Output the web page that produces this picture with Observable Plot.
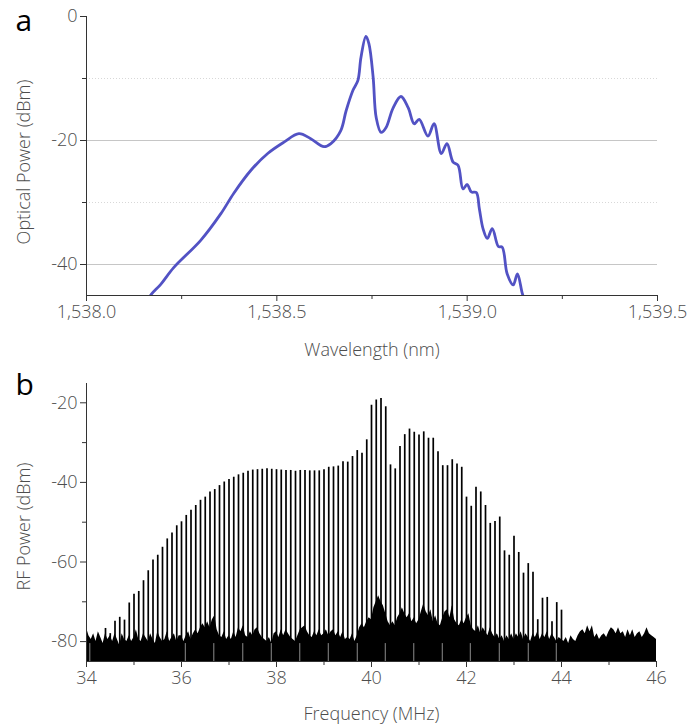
<!DOCTYPE html>
<html>
<head>
<meta charset="utf-8">
<script src="https://cdn.jsdelivr.net/npm/d3@7"></script>
<script src="https://cdn.jsdelivr.net/npm/@observablehq/plot@0.6"></script>
<style>
  html, body { margin: 0; padding: 0; background: #fff; }
  #wrap { width: 688px; }
  #wrap svg { display: block; }
</style>
</head>
<body>
<div id="wrap"></div>
<script>
// ---------- Panel a: optical spectrum ----------
const wavelengthNm = [1538.160, 1538.168, 1538.195, 1538.229, 1538.300, 1538.353, 1538.387, 1538.432, 1538.476, 1538.518,
  1538.558, 1538.589, 1538.624, 1538.642, 1538.668, 1538.682, 1538.700, 1538.713, 1538.721,
  1538.734, 1538.742, 1538.753, 1538.761, 1538.774, 1538.787, 1538.805, 1538.826, 1538.845, 1538.861,
  1538.874, 1538.897, 1538.913, 1538.932, 1538.947, 1538.963, 1538.976, 1538.989, 1539.000, 1539.011,
  1539.024, 1539.032, 1539.042, 1539.053, 1539.066, 1539.082, 1539.092, 1539.105, 1539.121, 1539.132,
  1539.145, 1539.155];
const opticalPowerDbm = [-46.2, -45, -43.2, -40.5, -36.1, -31.8, -28.5, -24.8, -22.1, -20.3,
  -18.9, -19.7, -21.0, -20.5, -18.4, -15.2, -11.9, -10.3, -6.6,
  -3.2, -4.4, -9.8, -16.3, -18.7, -17.9, -14.8, -12.9, -14.7, -17.3,
  -16.6, -19.3, -17.3, -22.1, -20.5, -23.5, -24.0, -27.8, -27.1, -28.3,
  -28.4, -31.0, -34.3, -35.8, -34.2, -37.1, -37.2, -41.5, -43.3, -41.5,
  -44.7, -46.5];
const waveTicksMajor = [1538.0, 1538.5, 1539.0, 1539.5];
const waveTicksMinor = [1538.25, 1538.75, 1539.25];
const optTicksMajor = [0, -20, -40];
const optTicksMinor = [-10, -30];
const optGridSolid = [-20, -40];
const optGridDotted = [-10, -30];

// ---------- Panel b: RF spectrum ----------
const combFreqMHz = [34.4, 34.5, 34.6, 34.7, 34.8, 34.9, 35.0, 35.1, 35.2, 35.3, 35.4, 35.5, 35.6, 35.7, 35.8, 35.9,
  36.0, 36.1, 36.2, 36.3, 36.4, 36.5, 36.6, 36.7, 36.8, 36.9, 37.0, 37.1, 37.2, 37.3, 37.4, 37.5, 37.6, 37.7, 37.8, 37.9,
  38.0, 38.1, 38.2, 38.3, 38.4, 38.5, 38.6, 38.7, 38.8, 38.9, 39.0, 39.1, 39.2, 39.3, 39.4, 39.5, 39.6, 39.7, 39.8, 39.9,
  40.0, 40.1, 40.2, 40.3, 40.4, 40.5, 40.6, 40.7, 40.8, 40.9, 41.0, 41.1, 41.2, 41.3, 41.4, 41.5, 41.6, 41.7, 41.8, 41.9,
  42.0, 42.1, 42.2, 42.3, 42.4, 42.5, 42.6, 42.7, 42.8, 42.9, 43.0, 43.1, 43.2, 43.3, 43.4, 43.5, 43.6, 43.7, 43.8, 43.9, 44.0];
const combPowerDbm = [-76.7, -78.0, -74.9, -73.9, -74.6, -70.3, -68.1, -67.4, -64.7, -62.2, -59.5, -58.3, -56.3, -54.2, -52.7, -50.9,
  -49.9, -48.3, -47.0, -45.8, -44.5, -43.7, -42.4, -41.8, -40.8, -39.9, -39.3, -38.7, -38.1, -37.7, -37.2, -36.9, -36.8, -36.7, -36.6, -36.7,
  -36.8, -36.9, -37.0, -37.0, -37.2, -37.0, -37.0, -37.1, -37.1, -37.1, -36.8, -36.2, -36.1, -35.9, -34.8, -34.9, -33.5, -32.0, -32.7, -29.3,
  -20.6, -19.3, -18.9, -21.0, -35.6, -36.6, -31.0, -28.0, -26.6, -27.4, -28.1, -27.3, -28.9, -28.9, -32.3, -35.8, -35.8, -34.3, -35.4, -36.2,
  -43.7, -46.0, -41.2, -42.4, -45.8, -50.3, -49.8, -48.7, -57.2, -58.3, -53.5, -57.6, -62.8, -60.4, -62.6, -74.5, -69.1, -68.9, -75.0, -70.2, -72.1];

const noiseFreqMHz = [
  34.00, 34.05, 34.10, 34.15, 34.20, 34.25, 34.30, 34.35, 34.40, 34.45, 34.50, 34.55, 34.60, 34.65, 34.70, 34.75, 34.80, 34.85, 34.90, 34.95,
  35.00, 35.05, 35.10, 35.15, 35.20, 35.25, 35.30, 35.35, 35.40, 35.45, 35.50, 35.55, 35.60, 35.65, 35.70, 35.75, 35.80, 35.85, 35.90, 35.95,
  36.00, 36.05, 36.10, 36.15, 36.20, 36.25, 36.30, 36.35, 36.40, 36.45, 36.50, 36.55, 36.60, 36.65, 36.70, 36.75, 36.80, 36.85, 36.90, 36.95,
  37.00, 37.05, 37.10, 37.15, 37.20, 37.25, 37.30, 37.35, 37.40, 37.45, 37.50, 37.55, 37.60, 37.65, 37.70, 37.75, 37.80, 37.85, 37.90, 37.95,
  38.00, 38.05, 38.10, 38.15, 38.20, 38.25, 38.30, 38.35, 38.40, 38.45, 38.50, 38.55, 38.60, 38.65, 38.70, 38.75, 38.80, 38.85, 38.90, 38.95,
  39.00, 39.05, 39.10, 39.15, 39.20, 39.25, 39.30, 39.35, 39.40, 39.45, 39.50, 39.55, 39.60, 39.65, 39.70, 39.75, 39.80, 39.85, 39.90, 39.95,
  40.00, 40.05, 40.10, 40.15, 40.20, 40.25, 40.30, 40.35, 40.40, 40.45, 40.50, 40.55, 40.60, 40.65, 40.70, 40.75, 40.80, 40.85, 40.90, 40.95,
  41.00, 41.05, 41.10, 41.15, 41.20, 41.25, 41.30, 41.35, 41.40, 41.45, 41.50, 41.55, 41.60, 41.65, 41.70, 41.75, 41.80, 41.85, 41.90, 41.95,
  42.00, 42.05, 42.10, 42.15, 42.20, 42.25, 42.30, 42.35, 42.40, 42.45, 42.50, 42.55, 42.60, 42.65, 42.70, 42.75, 42.80, 42.85, 42.90, 42.95,
  43.00, 43.05, 43.10, 43.15, 43.20, 43.25, 43.30, 43.35, 43.40, 43.45, 43.50, 43.55, 43.60, 43.65, 43.70, 43.75, 43.80, 43.85, 43.90, 43.95,
  44.00, 44.05, 44.10, 44.15, 44.20, 44.25, 44.30, 44.35, 44.40, 44.45, 44.50, 44.55, 44.60, 44.65, 44.70, 44.75, 44.80, 44.85, 44.90, 44.95,
  45.00, 45.05, 45.10, 45.15, 45.20, 45.25, 45.30, 45.35, 45.40, 45.45, 45.50, 45.55, 45.60, 45.65, 45.70, 45.75, 45.80, 45.85, 45.90, 45.95,
  46.00];
const noisePowerDbm = [
  -76.5, -78.5, -79.5, -78, -80, -77.5, -79, -80.5, -78, -79.5, -78.5, -80, -78, -79.5, -81, -78, -79.5, -80, -78.5, -80,
  -79, -77, -79.5, -80, -78, -79, -80, -78, -79.5, -80.5, -77.5, -79, -80, -79.5, -77.5, -80, -79, -78, -80, -78.5,
  -78.5, -80, -78.5, -77.5, -79.5, -78, -77, -78, -76.5, -75.5, -76.5, -75, -76.5, -74.5, -73.5, -77, -78.5, -79, -77.5, -79.5,
  -78.5, -79.5, -77.5, -79, -76.5, -77.5, -76, -78.5, -79, -77.5, -78.5, -77, -76.5, -78, -79, -79.5, -80, -79, -80.5, -78,
  -77.5, -79, -77, -78.5, -77, -78, -79, -79.5, -80, -78.5, -77, -76.5, -76, -77.5, -78.5, -79, -77.5, -78.5, -77, -78.5,
  -78, -77, -78.5, -77.5, -77, -78.5, -77.5, -79, -77.5, -79.5, -79, -79.5, -78, -80, -78.5, -76.5, -75.5, -76.5, -75, -74,
  -74.5, -71.5, -70, -68.5, -70, -71, -73, -75, -76, -75, -76, -74, -73, -71.5, -73, -74, -73, -75, -74, -75.5,
  -74.5, -72.5, -70.5, -72.5, -73.5, -72, -75, -73.5, -75.5, -76, -74, -72.5, -72, -74, -71, -74.5, -75.5, -76, -74.5, -75.5,
  -74, -73, -76, -77, -77.5, -76, -78, -76.5, -77.5, -78.5, -76.5, -78, -79, -78, -79.5, -78.5, -80, -78.5, -79.5, -78,
  -79.5, -78, -79, -77.5, -79.5, -78, -79, -80, -78, -79, -77.5, -79.5, -78, -79, -77.5, -79.5, -78, -79, -80, -79,
  -79.5, -80, -79, -80.5, -78.5, -79.5, -80, -78.5, -77.5, -77, -78, -76, -77.5, -76, -79, -78, -79.5, -78.5, -78, -79,
  -77.5, -76.5, -77, -78, -76.5, -78, -77.5, -79, -77, -78.5, -77, -79, -78, -77.5, -79, -78, -76.5, -78, -78.5, -79,
  -79.5];
const notchFreqMHz = [34.07, 36.08, 36.68, 37.29, 37.89, 38.49, 39.09, 39.70, 40.29, 40.89, 41.49, 42.08, 42.69, 43.30, 43.89];
const notchTopDbm = -80.5;
const freqTicksMajor = [34, 36, 38, 40, 42, 44, 46];
const freqTicksMinor = [35, 37, 39, 41, 43, 45];
const rfTicksMajor = [-20, -40, -60, -80];
const rfTicksMinor = [-30, -50, -70];

const fontFamily = "'Open Sans', 'Noto Sans', 'DejaVu Sans', sans-serif";
const textGray = "#4d4d4d";
const axisGray = "#333";
const lineBlue = "#5252c4";
const plain = d => String(d);
const fs = 18;

const optical = wavelengthNm.map((w, i) => ({w, p: opticalPowerDbm[i]}));
const comb = combFreqMHz.map((f, i) => ({f, p: combPowerDbm[i]}));
const noise = noiseFreqMHz.map((f, i) => ({f, p: noisePowerDbm[i]}));

const plotA = Plot.plot({
  width: 688, height: 362,
  marginTop: 16, marginLeft: 86, marginRight: 31, marginBottom: 67,
  x: {domain: [1538, 1539.5]},
  y: {domain: [-45, 0]},
  style: {fontFamily, fontSize: fs + "px", fontWeight: 300, color: textGray, background: "#fff"},
  marks: [
    Plot.ruleY(optGridSolid, {stroke: "#c6c6c6", strokeWidth: 1}),
    Plot.ruleY(optGridDotted, {stroke: "#d8d8d8", strokeWidth: 1, strokeDasharray: "1,2"}),
    Plot.line(optical, {x: "w", y: "p", curve: "catmull-rom", stroke: lineBlue, strokeWidth: 2.8, clip: true}),
    Plot.ruleX([1538], {stroke: axisGray, strokeWidth: 1}),
    Plot.ruleY([-45], {stroke: axisGray, strokeWidth: 1}),
    Plot.axisX({ticks: waveTicksMajor, tickFormat: d3.format(",.1f"), tickSize: 6, tickPadding: 4, stroke: axisGray, fill: textGray, label: null}),
    Plot.axisX({ticks: waveTicksMinor, tickFormat: () => "", tickSize: 4, stroke: axisGray, label: null}),
    Plot.axisY({ticks: optTicksMajor, tickFormat: plain, tickSize: 6, tickPadding: 3, stroke: axisGray, fill: textGray, label: null}),
    Plot.axisY({ticks: optTicksMinor, tickFormat: () => "", tickSize: 4, stroke: axisGray, label: null}),
    Plot.text(["Wavelength (nm)"], {frameAnchor: "bottom", textAnchor: "middle", lineAnchor: "bottom", dy: 60, fill: textGray, fontSize: fs}),
    Plot.text(["Optical Power (dBm)"], {frameAnchor: "left", textAnchor: "middle", lineAnchor: "middle", rotate: -90, dx: -62, dy: 6, fill: textGray, fontSize: fs}),
    Plot.text(["a"], {frameAnchor: "top-left", textAnchor: "start", lineAnchor: "middle", dx: -71, dy: 5, fill: "#000", fontSize: 30, fontWeight: 400})
  ]
});

const plotB = Plot.plot({
  width: 688, height: 363,
  marginTop: 21, marginLeft: 86, marginRight: 32, marginBottom: 64,
  x: {domain: [34, 46]},
  y: {domain: [-85, -15.15]},
  style: {fontFamily, fontSize: fs + "px", fontWeight: 300, color: textGray, background: "#fff"},
  marks: [
    Plot.areaY(noise, {x: "f", y1: -85, y2: "p", fill: "#000", clip: true}),
    Plot.ruleX(comb, {x: "f", y1: -85, y2: "p", stroke: "#000", strokeWidth: 1.7}),
    Plot.ruleX(notchFreqMHz, {x: d => d, y1: -85, y2: notchTopDbm, stroke: "#fff", strokeOpacity: 0.55, strokeWidth: 1}),
    Plot.ruleX([34], {stroke: axisGray, strokeWidth: 1}),
    Plot.ruleY([-85], {stroke: axisGray, strokeWidth: 1}),
    Plot.axisX({ticks: freqTicksMajor, tickFormat: plain, tickSize: 6, tickPadding: 4, stroke: axisGray, fill: textGray, label: null}),
    Plot.axisX({ticks: freqTicksMinor, tickFormat: () => "", tickSize: 4, stroke: axisGray, label: null}),
    Plot.axisY({ticks: rfTicksMajor, tickFormat: plain, tickSize: 6, tickPadding: 3, stroke: axisGray, fill: textGray, label: null}),
    Plot.axisY({ticks: rfTicksMinor, tickFormat: () => "", tickSize: 4, stroke: axisGray, label: null}),
    Plot.text(["Frequency (MHz)"], {frameAnchor: "bottom", textAnchor: "middle", lineAnchor: "bottom", dy: 58, fill: textGray, fontSize: fs}),
    Plot.text(["RF Power (dBm)"], {frameAnchor: "left", textAnchor: "middle", lineAnchor: "middle", rotate: -90, dx: -62, dy: 4, fill: textGray, fontSize: fs}),
    Plot.text(["b"], {frameAnchor: "top-left", textAnchor: "start", lineAnchor: "middle", dx: -71, dy: 2, fill: "#000", fontSize: 30, fontWeight: 400})
  ]
});

const wrap = document.getElementById("wrap");
wrap.appendChild(plotA);
wrap.appendChild(plotB);
</script>
</body>
</html>
